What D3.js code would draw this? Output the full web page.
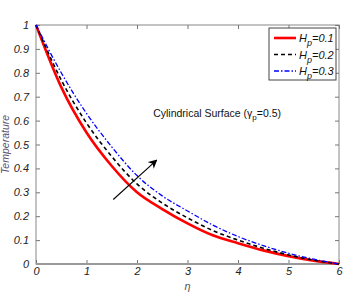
<!DOCTYPE html>
<html>
<head>
<meta charset="utf-8">
<script src="https://cdn.jsdelivr.net/npm/d3@7"></script>
<style>
  body { margin: 0; background: #fff; }
  text { font-family: Arial, "Liberation Sans", sans-serif; }
</style>
</head>
<body>
<svg id="chart" width="364" height="301"></svg>
<script>
// eta grid and temperature profiles
const eta = [0, 0.5, 1, 1.5, 2, 2.5, 3, 3.5, 4, 4.5, 5, 5.5, 6]
const tempHp01 = [1, 0.74, 0.55, 0.41, 0.30, 0.23, 0.17, 0.12, 0.087, 0.057, 0.033, 0.014, 0]
const tempHp02 = [1, 0.77, 0.59, 0.45, 0.335, 0.255, 0.193, 0.14, 0.10, 0.066, 0.038, 0.016, 0]
const tempHp03 = [1, 0.80, 0.63, 0.49, 0.37, 0.285, 0.222, 0.163, 0.115, 0.077, 0.045, 0.02, 0]
const seriesNames = ['0.1', '0.2', '0.3']
const xTicks = [0, 1, 2, 3, 4, 5, 6]
const yTicks = [0, 0.1, 0.2, 0.3, 0.4, 0.5, 0.6, 0.7, 0.8, 0.9, 1]
const arrowFrom = [1.53, 0.27]
const arrowTo = [2.39, 0.435]

const margin = { left: 36, right: 25, top: 25, bottom: 37 }
const width = 364 - margin.left - margin.right
const height = 301 - margin.top - margin.bottom

const svg = d3.select('#chart')
const g = svg.append('g').attr('transform', 'translate(' + margin.left + ',' + margin.top + ')')

const xScale = d3.scaleLinear().domain([0, 6]).range([0, width])
const yScale = d3.scaleLinear().domain([0, 1]).range([height, 0])

const styles = [
  { color: '#ff0000', width: 2.6, dash: null },
  { color: '#000000', width: 1.6, dash: '4,3' },
  { color: '#0000ff', width: 1.3, dash: '5,2,1.5,2' }
]
const series = [tempHp01, tempHp02, tempHp03]

// frame
g.append('rect')
  .attr('width', width).attr('height', height)
  .attr('fill', 'none').attr('stroke', '#888').attr('stroke-width', 1)

// axes with inward ticks
function styleAxis (sel) {
  sel.select('.domain').remove()
  sel.selectAll('line').attr('stroke', '#777')
  sel.selectAll('text')
    .attr('fill', '#222')
    .style('font-size', '11px')
    .style('font-style', 'italic')
}

g.append('g').attr('transform', 'translate(0,' + height + ')')
  .call(d3.axisBottom(xScale).tickValues(xTicks).tickSize(-4).tickPadding(3).tickFormat(d3.format('d')))
  .call(styleAxis)
g.append('g')
  .call(d3.axisTop(xScale).tickValues(xTicks).tickSize(-4).tickFormat(''))
  .call(styleAxis)
g.append('g')
  .call(d3.axisLeft(yScale).tickValues(yTicks).tickSize(-4).tickPadding(7).tickFormat(d => d === 0 || d === 1 ? d3.format('d')(d) : d3.format('.1f')(d)))
  .call(styleAxis)
g.append('g').attr('transform', 'translate(' + width + ',0)')
  .call(d3.axisRight(yScale).tickValues(yTicks).tickSize(-4).tickFormat(''))
  .call(styleAxis)

// thicker gray bottom axis line
g.append('line')
  .attr('x1', 0).attr('x2', width).attr('y1', height).attr('y2', height)
  .attr('stroke', '#999').attr('stroke-width', 2)

// curves
const line = d3.line()
  .x((d, i) => xScale(eta[i]))
  .y(d => yScale(d))
  .curve(d3.curveMonotoneX)

series.forEach(function (values, i) {
  g.append('path')
    .datum(values)
    .attr('d', line)
    .attr('fill', 'none')
    .attr('stroke', styles[i].color)
    .attr('stroke-width', styles[i].width)
    .attr('stroke-dasharray', styles[i].dash)
})

// arrow
svg.append('defs').append('marker')
  .attr('id', 'head').attr('viewBox', '0 0 10 10')
  .attr('refX', 9).attr('refY', 5)
  .attr('markerWidth', 9).attr('markerHeight', 9)
  .attr('markerUnits', 'userSpaceOnUse')
  .attr('orient', 'auto')
  .append('path').attr('d', 'M0,0 L10,5 L0,10 L3,5 z').attr('fill', '#000')

g.append('line')
  .attr('x1', xScale(arrowFrom[0])).attr('y1', yScale(arrowFrom[1]))
  .attr('x2', xScale(arrowTo[0])).attr('y2', yScale(arrowTo[1]))
  .attr('stroke', '#000').attr('stroke-width', 1.1)
  .attr('marker-end', 'url(#head)')

// annotation
const note = g.append('text')
  .attr('x', xScale(2.32)).attr('y', yScale(0.615))
  .style('font-size', '10.5px').attr('fill', '#111')
note.append('tspan').text('Cylindrical Surface (')
note.append('tspan').text('γ')
note.append('tspan').attr('dy', 3).style('font-size', '8px').text('p')
note.append('tspan').attr('dy', -3).text('=0.5)')

// axis titles
g.append('text')
  .attr('x', xScale(3)).attr('y', height + 26)
  .attr('text-anchor', 'middle')
  .style('font-size', '11px').style('font-style', 'italic').attr('fill', '#555')
  .text('η')

g.append('text')
  .attr('transform', 'translate(' + (-27) + ',' + yScale(0.5) + ') rotate(-90)')
  .attr('text-anchor', 'middle')
  .style('font-size', '10.5px').style('font-style', 'italic').attr('fill', '#5a5070')
  .text('Temperature')

// legend
const legend = svg.append('g').attr('transform', 'translate(269,28)')
legend.append('rect')
  .attr('width', 67).attr('height', 52)
  .attr('fill', '#fff').attr('stroke', '#444').attr('stroke-width', 1)

seriesNames.forEach(function (name, i) {
  const y = 10 + i * 16.5
  legend.append('line')
    .attr('x1', 5).attr('x2', 27).attr('y1', y).attr('y2', y)
    .attr('stroke', styles[i].color)
    .attr('stroke-width', styles[i].width)
    .attr('stroke-dasharray', styles[i].dash)
  const t = legend.append('text')
    .attr('x', 30).attr('y', y + 4)
    .style('font-size', '11px').style('font-style', 'italic').attr('fill', '#111')
  t.append('tspan').text('H')
  t.append('tspan').attr('dy', 4).style('font-size', '9px').text('p')
  t.append('tspan').attr('dy', -4).text('=' + name)
})
</script>
</body>
</html>
